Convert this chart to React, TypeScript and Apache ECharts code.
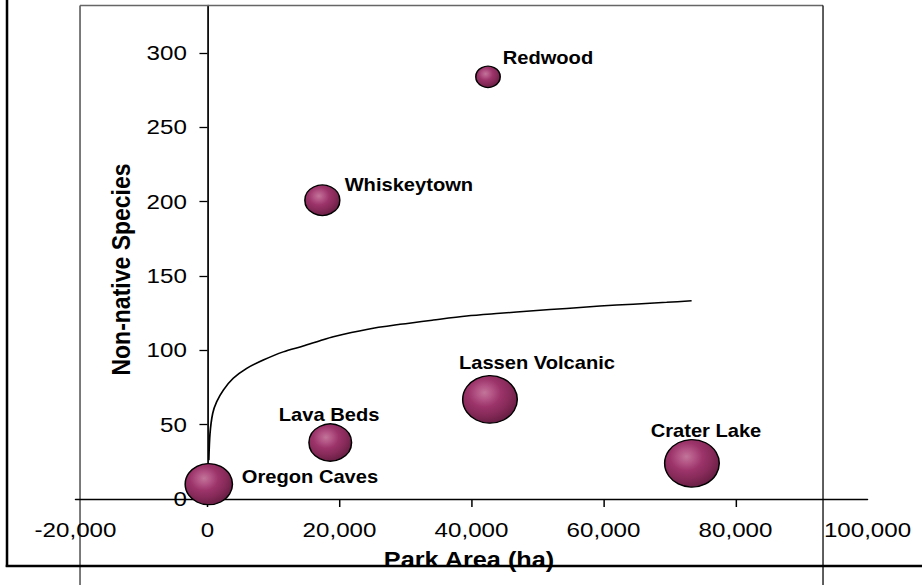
import { useEffect, useRef } from 'react';
import * as echarts from 'echarts';

// ---- data ----
const parks = ['Oregon Caves', 'Lava Beds', 'Whiskeytown', 'Redwood', 'Lassen Volcanic', 'Crater Lake'];
const parkArea = [200, 18600, 17400, 42500, 42800, 73400];
const nonNativeSpecies = [10, 38, 201, 284, 67, 24];
const bubbleValue = [75, 61, 41, 20, 100, 100];

const trendArea = [200, 378, 790, 1390, 2400, 3900, 5940, 8450, 11480, 14500, 17040, 19060, 24120, 29160, 34210, 39270, 44310, 49360, 54420, 59460, 64500, 69570, 73350];
const trendSpecies = [26, 44, 57.6, 65.4, 73.3, 81.2, 87.9, 93.5, 99, 102.9, 106.5, 109.2, 114.1, 117.5, 120.4, 123.1, 124.9, 126.6, 128.2, 129.8, 131.1, 132.3, 133.4];

const xTickValues = [-20000, 0, 20000, 40000, 60000, 80000, 100000];
const xTickLabels = ['-20,000', '0', '20,000', '40,000', '60,000', '80,000', '100,000'];
const xTickMarks = [0, 20000, 40000, 60000, 80000];
const yTickValues = [0, 50, 100, 150, 200, 250, 300];
const yTickLabels = ['0', '50', '100', '150', '200', '250', '300'];

// ---- layout (chart units; the chart is stretched horizontally like the reference) ----
const CW = 802;
const CH = 585;
const S = 922 / CW;
const FONT = "'Liberation Sans', Arial, Helvetica, sans-serif";
const GRID_LEFT = 65.67;
const GRID_RIGHT = 47.4;
const X_MIN = -20000;
const X_MAX = 100000;
// distance from grid left to the x = 0 position, so the y axis sits on zero
const Y_AXIS_SHIFT = ((0 - X_MIN) / (X_MAX - X_MIN)) * (CW - GRID_LEFT - GRID_RIGHT);

const labelLayout = [
  { align: 'left', offset: [28.7, -7.5] },
  { align: 'center', offset: [-1, -28] },
  { align: 'left', offset: [19.4, -15] },
  { align: 'left', offset: [12.8, -18.7] },
  { align: 'left', offset: [-27, -36] },
  { align: 'center', offset: [12.2, -32] },
];

const bubbleFill = {
  type: 'radial',
  x: 0.4,
  y: 0.36,
  r: 0.66,
  colorStops: [
    { offset: 0, color: '#c27599' },
    { offset: 0.22, color: '#b35485' },
    { offset: 0.45, color: '#9c346a' },
    { offset: 0.72, color: '#862a59' },
    { offset: 1, color: '#671e43' },
  ],
};

export default function App() {
  const ref = useRef<HTMLDivElement>(null);

  useEffect(() => {
    if (!ref.current) return;
    const chart = echarts.init(ref.current, null, { renderer: 'svg', width: CW, height: CH });

    const option: any = {
      animation: false,
      backgroundColor: '#ffffff',
      grid: { left: GRID_LEFT, right: GRID_RIGHT, top: 5.5, bottom: 86, containLabel: false },
      xAxis: {
        type: 'value',
        min: X_MIN,
        max: X_MAX,
        interval: 20000,
        axisLine: { show: true, onZero: true, lineStyle: { color: '#000', width: 1.3 } },
        axisTick: { show: true, customValues: xTickMarks, length: 8, lineStyle: { color: '#000', width: 1.3 } },
        axisLabel: {
          show: true,
          margin: 21,
          fontSize: 21,
          fontFamily: FONT,
          color: '#000',
          showMinLabel: true,
          showMaxLabel: true,
          formatter: (v: number) => {
            const i = xTickValues.indexOf(v);
            return i >= 0 ? xTickLabels[i] : '';
          },
        },
        splitLine: { show: false },
      },
      yAxis: {
        type: 'value',
        min: 0,
        max: 332,
        interval: 50,
        position: 'left',
        offset: -Y_AXIS_SHIFT,
        axisLine: { show: true, onZero: false, lineStyle: { color: '#000', width: 1.5 } },
        axisTick: { show: true, customValues: yTickValues, length: 7, lineStyle: { color: '#000', width: 1.3 } },
        axisLabel: {
          show: true,
          customValues: yTickValues,
          margin: 18,
          fontSize: 21,
          fontFamily: FONT,
          color: '#000',
          formatter: (v: number) => {
            const i = yTickValues.indexOf(v);
            return i >= 0 ? yTickLabels[i] : '';
          },
        },
        splitLine: { show: false },
      },
      series: [
        {
          type: 'line',
          data: trendArea.map((a, i) => [a, trendSpecies[i]]),
          showSymbol: false,
          smooth: 0.3,
          lineStyle: { color: '#000', width: 1.5 },
          z: 2,
        },
        {
          type: 'scatter',
          data: parks.map((p, i) => ({
            name: p,
            value: [parkArea[i], nonNativeSpecies[i], bubbleValue[i]],
            label: {
              show: true,
              position: 'inside',
              align: labelLayout[i].align,
              verticalAlign: 'middle',
              offset: labelLayout[i].offset,
              formatter: '{b}',
              fontSize: 17.5,
              fontWeight: 'bold',
              fontFamily: FONT,
              color: '#000',
            },
          })),
          symbol: 'circle',
          symbolSize: (val: number[]) => 47.5 * Math.sqrt(val[2] / 100),
          itemStyle: { color: bubbleFill, borderColor: '#000', borderWidth: 1.3, opacity: 1 },
          z: 3,
        },
      ],
      graphic: [
        {
          type: 'text',
          x: 105,
          y: 269.5,
          rotation: Math.PI / 2,
          z: 50,
          style: {
            text: 'Non-native Species',
            fontSize: 23,
            fontWeight: 'bold',
            fontFamily: FONT,
            fill: '#000',
            align: 'center',
            verticalAlign: 'middle',
          },
        },
        {
          type: 'text',
          x: 408,
          y: 559.2,
          z: 50,
          style: {
            text: 'Park Area (ha)',
            fontSize: 22,
            fontWeight: 'bold',
            fontFamily: FONT,
            fill: '#000',
            align: 'center',
            verticalAlign: 'middle',
          },
        },
        { type: 'line', z: 100, shape: { x1: 6.1, y1: 0, x2: 6.1, y2: 567 }, style: { stroke: '#000', lineWidth: 2.2 } },
        { type: 'line', z: 100, shape: { x1: 5, y1: 566, x2: CW, y2: 566 }, style: { stroke: '#000', lineWidth: 2.5 } },
        { type: 'line', z: 100, shape: { x1: 69.6, y1: 5.5, x2: 69.6, y2: CH }, style: { stroke: '#000', lineWidth: 0.9 } },
        { type: 'line', z: 100, shape: { x1: 69.6, y1: 5.5, x2: 715.9, y2: 5.5 }, style: { stroke: '#666', lineWidth: 1.3 } },
        { type: 'line', z: 100, shape: { x1: 715.9, y1: 5.5, x2: 715.9, y2: CH }, style: { stroke: '#000', lineWidth: 1.1 } },
      ],
    };

    chart.setOption(option);
    return () => chart.dispose();
  }, []);

  return (
    <div
      style={{
        position: 'fixed',
        left: 0,
        top: 0,
        width: 922,
        height: 585,
        overflow: 'hidden',
        background: '#ffffff',
      }}
    >
      <div
        ref={ref}
        style={{ width: CW, height: CH, transform: `scaleX(${S})`, transformOrigin: '0 0' }}
      />
    </div>
  );
}
